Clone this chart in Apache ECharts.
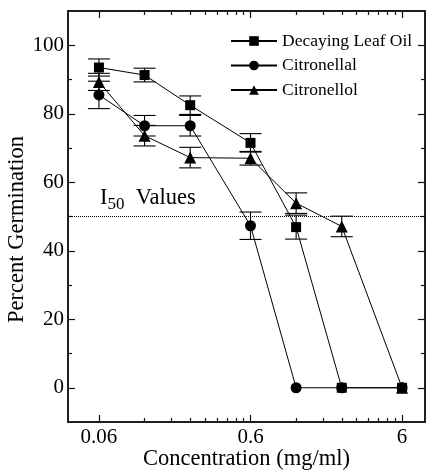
<!DOCTYPE html>
<html>
<head>
<meta charset="utf-8">
<script src="https://cdn.jsdelivr.net/npm/echarts@6/dist/echarts.min.js"></script>
<style>
html,body{margin:0;padding:0;background:#fff;}
#chart{width:426px;height:472px;}
</style>
</head>
<body>
<div id="chart"></div>
<script>
// ---- data ----
const concentrations = [0.06, 0.12, 0.24, 0.6, 1.2, 2.4, 6];
const decayingLeafOil = [93.5, 91.3, 82.5, 71.5, 46.9, 0, 0];
const decayingLeafOilErr = [2.5, 2.0, 2.7, 2.7, 3.5, 0, 0];
const citronellal = [85.5, 76.5, 76.5, 47.3, 0, 0, 0];
const citronellalErr = [4.0, 3.0, 3.0, 4.0, 0, 0, 0];
const citronellol = [89.3, 73.6, 67.2, 67.0, 53.9, 47.1, 0];
const citronellolErr = [2.5, 3.0, 3.0, 2.0, 3.0, 3.0, 0];
const seriesNames = ['Decaying Leaf Oil', 'Citronellal', 'Citronellol'];
const xMajorTicks = [0.06, 0.6, 6];
const xMinorTicks = [0.12, 0.18, 0.24, 0.30, 0.36, 0.42, 0.48, 0.54, 1.2, 1.8, 2.4, 3.0, 3.6, 4.2, 4.8, 5.4];
const yMajorTicks = [0, 20, 40, 60, 80, 100];
const yMinorTicks = [10, 30, 50, 70, 90];
const i50Value = 50;
const xRange = [0.0375, 8.5];
const yRange = [-10, 110];

// ---- chart ----
const FONT = "'Liberation Serif','Times New Roman',serif";
const AX = '#111';
const chart = echarts.init(document.getElementById('chart'), null, {renderer: 'canvas'});

function xAxisCfg(grid, pos, ticks, len, labels) {
  return {
    type: 'log', logBase: 10, gridIndex: grid, position: pos,
    min: xRange[0], max: xRange[1],
    axisLine: {show: true, onZero: false, lineStyle: {color: AX, width: 1.5}},
    axisTick: {show: true, inside: true, length: len, customValues: ticks, lineStyle: {color: AX, width: 1.2}},
    axisLabel: labels ? {show: true, customValues: ticks, margin: 5, color: '#000', fontFamily: FONT, fontSize: 21,
      formatter: v => String(+v.toPrecision(3))} : {show: false},
    splitLine: {show: false}, minorTick: {show: false}
  };
}
function yAxisCfg(grid, pos, ticks, len, labels) {
  return {
    type: 'value', gridIndex: grid, position: pos,
    min: yRange[0], max: yRange[1],
    axisLine: {show: true, onZero: false, lineStyle: {color: AX, width: 1.5}},
    axisTick: {show: true, inside: true, length: len, customValues: ticks, lineStyle: {color: AX, width: 1.2}},
    axisLabel: labels ? {show: true, customValues: ticks, margin: 4, color: '#000', fontFamily: FONT, fontSize: 21} : {show: false},
    splitLine: {show: false}
  };
}

const xMain = xAxisCfg(0, 'bottom', xMajorTicks, 7, true);
xMain.name = 'Concentration (mg/ml)';
xMain.nameLocation = 'middle';
xMain.nameGap = 26;
xMain.nameMoveOverlap = false;
xMain.nameTextStyle = {fontFamily: FONT, fontSize: 22.5, color: '#000'};
const yMain = yAxisCfg(0, 'left', yMajorTicks, 7, true);
yMain.name = 'Percent Germination';
yMain.nameLocation = 'middle';
yMain.nameGap = 39;
yMain.nameMoveOverlap = false;
yMain.nameTextStyle = {fontFamily: FONT, fontSize: 22.5, color: '#000', padding: [0, 26, 0, 0]};

function errData(vals, errs) {
  const out = [];
  concentrations.forEach((c, i) => { if (errs[i] > 0) out.push([c, vals[i] - errs[i], vals[i] + errs[i]]); });
  return out;
}
function errSeries(vals, errs) {
  return {
    type: 'custom', xAxisIndex: 0, yAxisIndex: 0, z: 1, silent: true,
    encode: {x: 0, y: [1, 2]},
    data: errData(vals, errs),
    renderItem: function (params, api) {
      const x = api.value(0);
      const lo = api.coord([x, api.value(1)]);
      const hi = api.coord([x, api.value(2)]);
      const h = 11;
      const st = {stroke: '#000', lineWidth: 1.1};
      return {type: 'group', children: [
        {type: 'line', shape: {x1: lo[0], y1: lo[1], x2: hi[0], y2: hi[1]}, style: st},
        {type: 'line', shape: {x1: lo[0] - h, y1: lo[1], x2: lo[0] + h, y2: lo[1]}, style: st},
        {type: 'line', shape: {x1: hi[0] - h, y1: hi[1], x2: hi[0] + h, y2: hi[1]}, style: st}
      ]};
    }
  };
}
function lineSeries(name, vals, symbol, size, extra) {
  const s = {
    name: name, type: 'line', xAxisIndex: 0, yAxisIndex: 0, z: 3,
    data: concentrations.map((c, i) => [c, vals[i]]),
    symbol: symbol, symbolSize: size, showSymbol: true,
    lineStyle: {color: '#000', width: 1},
    itemStyle: {color: '#000', borderWidth: 0},
    emphasis: {disabled: true}
  };
  return Object.assign(s, extra || {});
}

const gridCfg = {left: 68, top: 11, right: 1, bottom: 50, containLabel: false, outerBoundsMode: 'none'};
const option = {
  animation: false,
  backgroundColor: '#fff',
  grid: [Object.assign({}, gridCfg), Object.assign({}, gridCfg)],
  xAxis: [
    xMain,
    xAxisCfg(0, 'top', xMajorTicks, 7, false),
    xAxisCfg(1, 'bottom', xMinorTicks, 4, false),
    xAxisCfg(1, 'top', xMinorTicks, 4, false)
  ],
  yAxis: [
    yMain,
    yAxisCfg(0, 'right', yMajorTicks, 7, false),
    yAxisCfg(1, 'left', yMinorTicks, 4, false),
    yAxisCfg(1, 'right', yMinorTicks, 4, false)
  ],
  legend: {
    data: seriesNames,
    orient: 'vertical', left: 230, top: 32, padding: 0,
    itemWidth: 46, itemHeight: 12, itemGap: 6.5,
    textStyle: {fontFamily: FONT, fontSize: 17.5, color: '#000'},
    selectedMode: false
  },
  series: [
    errSeries(decayingLeafOil, decayingLeafOilErr),
    errSeries(citronellal, citronellalErr),
    errSeries(citronellol, citronellolErr),
    lineSeries(seriesNames[0], decayingLeafOil, 'rect', 10, {
      markLine: {
        silent: true, symbol: 'none',
        lineStyle: {type: 'dotted', color: '#000', width: 1},
        data: [{yAxis: i50Value}],
        label: {
          show: true, position: 'insideStartTop', distance: [32, 3],
          formatter: '{i|I}{s|50}{v|  Values}',
          rich: {
            i: {fontFamily: FONT, fontSize: 22.5, color: '#000'},
            s: {fontFamily: FONT, fontSize: 17, color: '#000', padding: [14, 0, 0, 0]},
            v: {fontFamily: FONT, fontSize: 22.5, color: '#000'}
          }
        }
      }
    }),
    lineSeries(seriesNames[1], citronellal, 'circle', 11),
    lineSeries(seriesNames[2], citronellol, 'triangle', 12)
  ]
};
chart.setOption(option);
</script>
</body>
</html>
